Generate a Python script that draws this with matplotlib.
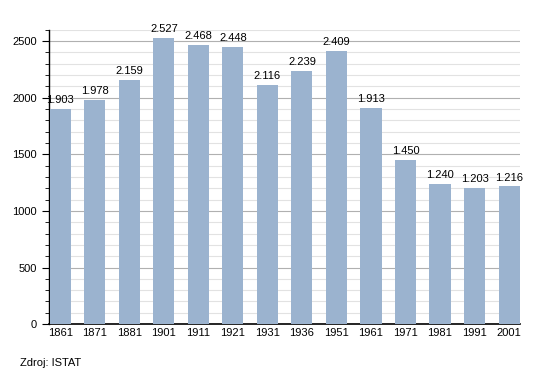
import matplotlib.pyplot as plt
from matplotlib.ticker import MultipleLocator

plt.rcParams['font.family'] = ['Liberation Sans', 'DejaVu Sans']

years = ['1861', '1871', '1881', '1901', '1911', '1921', '1931',
         '1936', '1951', '1961', '1971', '1981', '1991', '2001']
population = [1903, 1978, 2159, 2527, 2468, 2448, 2116,
              2239, 2409, 1913, 1450, 1240, 1203, 1216]

fig = plt.figure(figsize=(5.5, 3.73), dpi=100)
ax = fig.add_axes([0.089, 0.131, 0.856, 0.789])

x = range(len(years))
ax.bar(x, population, width=0.61, color='#9bb3cf', zorder=3)
for i, v in enumerate(population):
    label = '{:,}'.format(v).replace(',', '.')
    ax.text(i, v + 35, label, ha='center', va='bottom', fontsize=8, zorder=4)

ax.set_xlim(-0.33, 13.31)
ax.set_ylim(0, 2600)
ax.set_xticks(list(x))
ax.set_xticklabels(years)
ax.yaxis.set_major_locator(MultipleLocator(500))
ax.yaxis.set_minor_locator(MultipleLocator(100))
ax.grid(axis='y', which='major', color='#b0b0b0', linewidth=0.8, zorder=0)
ax.grid(axis='y', which='minor', color='#e2e2e2', linewidth=0.8, zorder=0)

for s in ['top', 'right']:
    ax.spines[s].set_visible(False)
ax.spines['left'].set_linewidth(1.0)
ax.spines['bottom'].set_linewidth(1.2)
ax.tick_params(axis='x', length=0, labelsize=8, pad=3)
ax.tick_params(axis='y', which='major', length=5, labelsize=8)
ax.tick_params(axis='y', which='minor', length=3)

fig.text(0.036, 0.02, 'Zdroj: ISTAT', fontsize=8)

plt.savefig('out.png', dpi=100)
